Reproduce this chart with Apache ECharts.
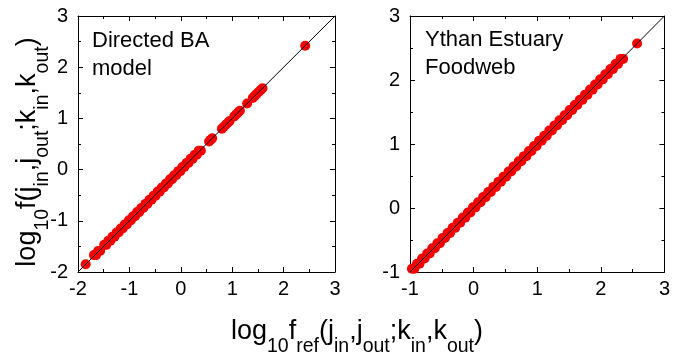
<!DOCTYPE html>
<html>
<head>
<meta charset="utf-8">
<script src="https://cdn.jsdelivr.net/npm/echarts@6/dist/echarts.min.js"></script>
<style>
html,body{margin:0;padding:0;background:#fff;}
#chart{width:673px;height:361px;}
</style>
</head>
<body>
<div id="chart"></div>
<script>
// Left panel: Directed BA model
var leftRef = [-1.85, -1.69, -1.65, -1.61, -1.57, -1.49, -1.45, -1.41, -1.37, -1.33, -1.29, -1.25, -1.21, -1.17, -1.13, -1.09, -1.05, -1.01, -0.97, -0.93, -0.89, -0.85, -0.81, -0.77, -0.73, -0.69, -0.65, -0.61, -0.57, -0.53, -0.49, -0.45, -0.41, -0.37, -0.33, -0.29, -0.25, -0.21, -0.17, -0.13, -0.09, -0.05, -0.01, 0.03, 0.07, 0.11, 0.15, 0.19, 0.23, 0.27, 0.31, 0.35, 0.39, 0.55, 0.58, 0.61, 0.80, 0.84, 0.88, 0.92, 0.95, 1.04, 1.08, 1.12, 1.15, 1.29, 1.40, 1.44, 1.48, 1.52, 1.56, 1.59, 2.42];
var leftF = [-1.85, -1.67, -1.67, -1.59, -1.59, -1.47, -1.47, -1.39, -1.39, -1.31, -1.31, -1.23, -1.23, -1.15, -1.15, -1.07, -1.07, -0.99, -0.99, -0.91, -0.91, -0.83, -0.83, -0.75, -0.75, -0.67, -0.67, -0.59, -0.59, -0.51, -0.51, -0.43, -0.43, -0.35, -0.35, -0.27, -0.27, -0.19, -0.19, -0.11, -0.11, -0.03, -0.03, 0.05, 0.05, 0.13, 0.13, 0.21, 0.21, 0.29, 0.29, 0.37, 0.37, 0.55, 0.58, 0.61, 0.80, 0.84, 0.88, 0.92, 0.95, 1.04, 1.08, 1.12, 1.15, 1.29, 1.40, 1.44, 1.48, 1.52, 1.56, 1.59, 2.42];
// Right panel: Ythan Estuary Foodweb
var rightRef = [-0.97, -0.93, -0.89, -0.85, -0.81, -0.77, -0.73, -0.69, -0.65, -0.61, -0.57, -0.53, -0.49, -0.45, -0.41, -0.37, -0.33, -0.29, -0.25, -0.21, -0.17, -0.13, -0.09, -0.05, -0.01, 0.03, 0.07, 0.11, 0.15, 0.19, 0.23, 0.27, 0.31, 0.35, 0.39, 0.43, 0.47, 0.51, 0.55, 0.59, 0.63, 0.67, 0.71, 0.75, 0.79, 0.83, 0.87, 0.91, 0.95, 0.99, 1.03, 1.07, 1.11, 1.15, 1.19, 1.23, 1.27, 1.31, 1.35, 1.39, 1.43, 1.47, 1.51, 1.55, 1.59, 1.63, 1.67, 1.71, 1.75, 1.79, 1.83, 1.87, 1.91, 1.95, 1.99, 2.03, 2.07, 2.11, 2.15, 2.19, 2.23, 2.27, 2.31, 2.35, 2.57];
var rightF = [-0.95, -0.95, -0.87, -0.87, -0.79, -0.79, -0.71, -0.71, -0.63, -0.63, -0.55, -0.55, -0.47, -0.47, -0.39, -0.39, -0.31, -0.31, -0.23, -0.23, -0.15, -0.15, -0.07, -0.07, 0.01, 0.01, 0.09, 0.09, 0.17, 0.17, 0.25, 0.25, 0.33, 0.33, 0.41, 0.41, 0.49, 0.49, 0.57, 0.57, 0.65, 0.65, 0.73, 0.73, 0.81, 0.81, 0.89, 0.89, 0.97, 0.97, 1.05, 1.05, 1.13, 1.13, 1.21, 1.21, 1.29, 1.29, 1.37, 1.37, 1.45, 1.45, 1.53, 1.53, 1.61, 1.61, 1.69, 1.69, 1.77, 1.77, 1.85, 1.85, 1.93, 1.93, 2.01, 2.01, 2.09, 2.09, 2.17, 2.17, 2.25, 2.25, 2.33, 2.33, 2.57];
// diagonal reference lines y = x (end points)
var leftDiag = [[-2, -2], [3, 3]];
var rightDiag = [[-1, -1], [3, 3]];
// axis ranges
var leftRange = [-2, 3];
var rightRange = [-1, 3];
var leftLabel = ['Directed BA', 'model'];
var rightLabel = ['Ythan Estuary', 'Foodweb'];

var FONT = '"Liberation Sans", Arial, sans-serif';
var RED = '#f50000';

function zip(a, b) { var o = []; for (var i = 0; i < a.length; i++) o.push([a[i], b[i]]); return o; }

function axis(type, grid, range, pos, showLabel) {
  return {
    type: 'value', gridIndex: grid, min: range[0], max: range[1], interval: 1,
    position: pos,
    axisLine: { show: true, onZero: false, lineStyle: { color: '#000', width: 1 } },
    axisTick: { show: true, inside: true, length: 5, lineStyle: { color: '#000', width: 1 } },
    minorTick: { show: true, splitNumber: 2, length: 3, lineStyle: { color: '#000', width: 1 } },
    splitLine: { show: false },
    minorSplitLine: { show: false },
    axisLabel: { show: showLabel, color: '#000', fontSize: 20, fontFamily: FONT,
      margin: type === 'x' ? 7 : 10, showMinLabel: true, showMaxLabel: true }
  };
}

var chart = echarts.init(document.getElementById('chart'), null, { renderer: 'canvas' });

var mainSize = 27, subSize = 19.5;
var rich = {
  m: { fontSize: mainSize, fontFamily: FONT, color: '#000' },
  s: { fontSize: subSize, fontFamily: FONT, color: '#000', padding: [30, 0, 0, 0] }
};

var dotStyle = { color: RED, opacity: 1, borderWidth: 0 };

var option = {
  animation: false,
  backgroundColor: '#fff',
  grid: [
    { left: 78, top: 16, width: 257, height: 256 },
    { left: 410, top: 16, width: 259, height: 256 }
  ],
  xAxis: [
    axis('x', 0, leftRange, 'bottom', true),
    axis('x', 0, leftRange, 'top', false),
    axis('x', 1, rightRange, 'bottom', true),
    axis('x', 1, rightRange, 'top', false)
  ],
  yAxis: [
    axis('y', 0, leftRange, 'left', true),
    axis('y', 0, leftRange, 'right', false),
    axis('y', 1, rightRange, 'left', true),
    axis('y', 1, rightRange, 'right', false)
  ],
  series: [
    { type: 'scatter', xAxisIndex: 0, yAxisIndex: 0, data: zip(leftRef, leftF),
      symbol: 'circle', symbolSize: 10, itemStyle: dotStyle, z: 2, silent: true },
    { type: 'line', xAxisIndex: 0, yAxisIndex: 0, data: leftDiag, symbol: 'none',
      lineStyle: { color: '#000', width: 1 }, z: 3, silent: true },
    { type: 'scatter', xAxisIndex: 2, yAxisIndex: 2, data: zip(rightRef, rightF),
      symbol: 'circle', symbolSize: 10, itemStyle: dotStyle, z: 2, silent: true },
    { type: 'line', xAxisIndex: 2, yAxisIndex: 2, data: rightDiag, symbol: 'none',
      lineStyle: { color: '#000', width: 1 }, z: 3, silent: true }
  ],
  graphic: [
    { type: 'text', left: 92, top: 27, style: { text: leftLabel.join('\n'), fontSize: 22, lineHeight: 28, fontFamily: FONT, fill: '#000' } },
    { type: 'text', left: 425, top: 26, style: { text: rightLabel.join('\n'), fontSize: 22, lineHeight: 28, fontFamily: FONT, fill: '#000' } },
    { type: 'text', x: 357, y: 332,
      style: { text: '{m|log}{s|10}{m|f}{s|ref}{m|(j}{s|in}{m|,j}{s|out}{m|;k}{s|in}{m|,k}{s|out}{m|)}',
        rich: rich, align: 'center', verticalAlign: 'middle' } },
    { type: 'text', x: 28, y: 152, rotation: Math.PI / 2,
      style: { text: '{m|log}{s|10}{m|f(j}{s|in}{m|,j}{s|out}{m|;k}{s|in}{m|,k}{s|out}{m|)}',
        rich: rich, align: 'center', verticalAlign: 'middle' } }
  ]
};
chart.setOption(option);
</script>
</body>
</html>
